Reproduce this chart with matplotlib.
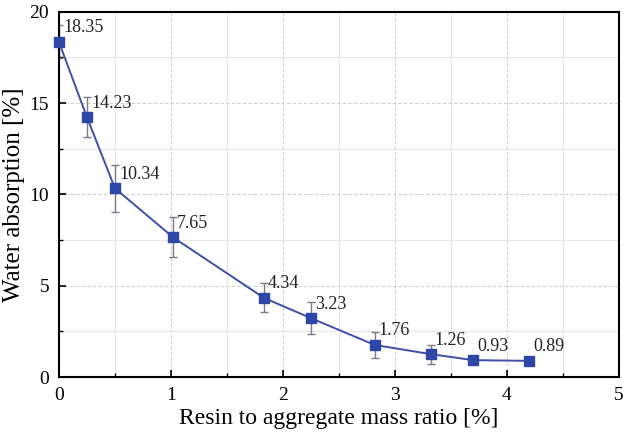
import matplotlib
matplotlib.use("Agg")
import matplotlib.pyplot as plt
from matplotlib.ticker import MultipleLocator

# Water absorption vs resin content
resin_ratio = [0.0, 0.25, 0.5, 1.02, 1.83, 2.25, 2.82, 3.32, 3.70, 4.20]
absorption = [18.35, 14.23, 10.34, 7.65, 4.34, 3.23, 1.76, 1.26, 0.93, 0.89]
abs_err = [0.9, 1.1, 1.3, 1.1, 0.8, 0.87, 0.7, 0.52, 0.12, 0.18]
value_labels = ["18.35", "14.23", "10.34", "7.65", "4.34", "3.23", "1.76", "1.26", "0.93", "0.89"]

plt.rcParams["font.family"] = ["Liberation Serif", "DejaVu Serif"]

fig = plt.figure(figsize=(6.27, 4.37), dpi=100)
ax = fig.add_axes([0.094, 0.137, 0.893, 0.836])

ax.errorbar(resin_ratio, absorption, yerr=abs_err, fmt="none",
            ecolor="#7a7a8a", elinewidth=1.0, capsize=3, capthick=1.0, zorder=2)
ax.plot(resin_ratio, absorption, "-", color="#3d4fa8", lw=1.4, zorder=3)
ax.plot(resin_ratio, absorption, "s", color="#2e47a6", ms=7, zorder=4, clip_on=False)

for x, y, t in zip(resin_ratio, absorption, value_labels):
    ax.annotate(t, (x, y), xytext=(3, 4), textcoords="offset points",
                fontsize=13, color="#222222", ha="left", va="bottom")

ax.set_xlim(0, 5)
ax.set_ylim(0, 20)
ax.xaxis.set_major_locator(MultipleLocator(1))
ax.xaxis.set_minor_locator(MultipleLocator(0.5))
ax.yaxis.set_major_locator(MultipleLocator(5))
ax.yaxis.set_minor_locator(MultipleLocator(2.5))

ax.grid(which="major", color="#cfcfcf", linestyle=(0, (3, 2)), lw=0.8)
ax.grid(which="minor", color="#e6e6e6", linestyle="-", lw=0.8)
ax.set_axisbelow(True)

ax.tick_params(which="both", direction="in", labelsize=14, top=False, right=False, pad=7)
ax.tick_params(which="major", length=5, width=1.2)
ax.tick_params(which="minor", length=3, width=1.0)
for s in ax.spines.values():
    s.set_linewidth(1.5)

ax.set_xlabel("Resin to aggregate mass ratio [%]", fontsize=17, labelpad=3)
ax.set_ylabel("Water absorption [%]", fontsize=18, labelpad=3)

fig.savefig("out.png", dpi=100)
